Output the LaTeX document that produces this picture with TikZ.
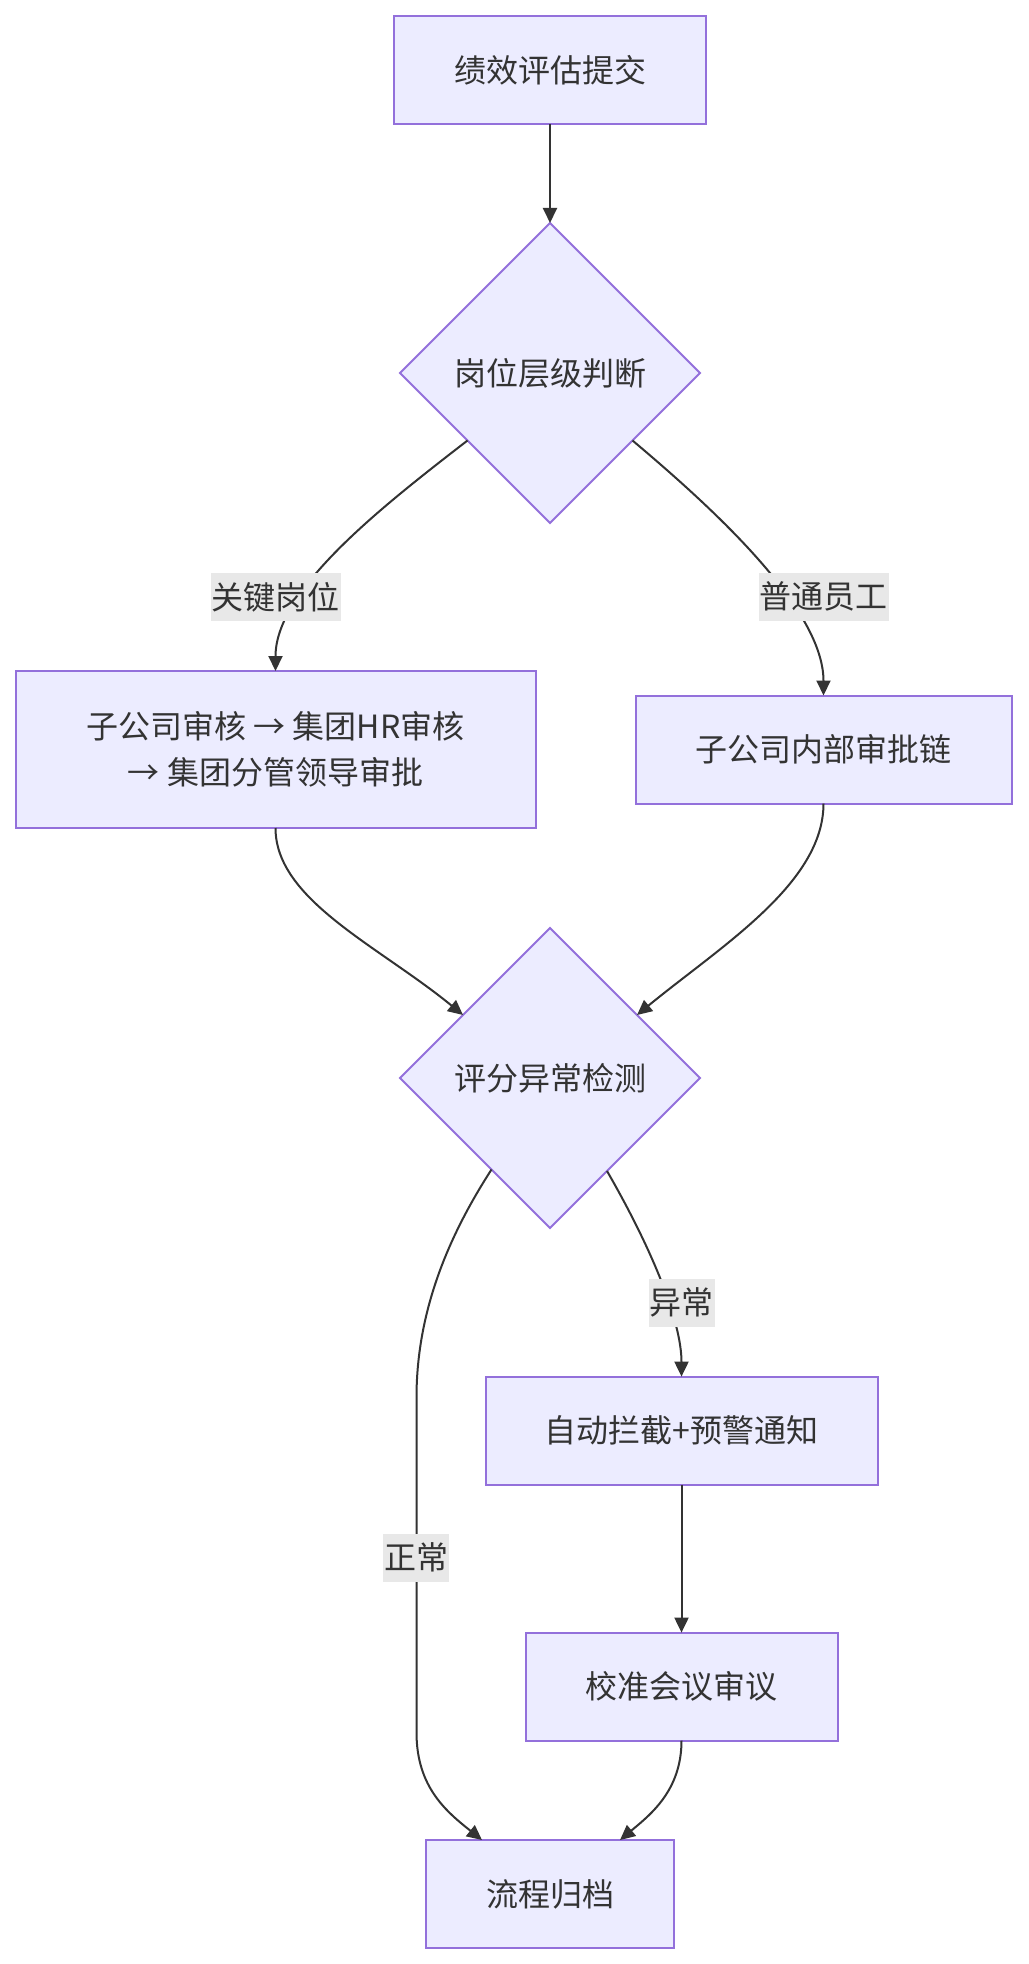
\documentclass[tikz,border=0pt]{standalone}
\usepackage{fontspec}
\setmainfont{Noto Sans CJK SC}
\usetikzlibrary{positioning, shapes.geometric, arrows.meta, calc}
\definecolor{nodefill}{HTML}{ECECFF}
\definecolor{nodeline}{HTML}{9370DB}
\definecolor{edgeline}{HTML}{333333}
\definecolor{lblfill}{HTML}{E8E8E8}

\begin{document}
\begin{tikzpicture}[
    x=0.5pt, y=-0.5pt,
    procbox/.style={draw=nodeline, fill=nodefill, line width=1pt, minimum height=54pt, align=center, inner sep=0pt, outer sep=0pt, text=edgeline, font=\fontsize{16}{23}\selectfont},
    checkbox/.style={procbox, shape=diamond, aspect=1, minimum width=150pt, minimum height=150pt},
    edgelbl/.style={fill=lblfill, inner xsep=0.5pt, inner ysep=0pt, outer sep=0pt, minimum height=24pt, text=edgeline, font=\fontsize{16}{20}\selectfont},
    arrow/.style={-{Triangle[length=7.5pt, width=7pt]}, line width=1pt, draw=edgeline}
]
    \useasboundingbox (0,0) rectangle (1028,1964);

    % Submission and level check
    \node[procbox, minimum width=156pt] (submit) at (550,70) {绩效评估提交};
    \node[checkbox, below=49.5pt of submit] (level) {岗位层级判断};

    % Two approval routes
    \node[procbox, minimum width=260pt, minimum height=78.5pt, below=74pt of level, xshift=-137.25pt] (keypost) {子公司审核 → 集团HR审核\\→ 集团分管领导审批};
    \node[procbox, minimum width=188pt, right=50pt of keypost] (staffchain) {子公司内部审批链};

    % Anomaly check
    \node[checkbox, below=202.5pt of level] (anomaly) {评分异常检测};
    \node[procbox, minimum width=196pt, below=74.3pt of anomaly, xshift=65.75pt] (intercept) {自动拦截+预警通知};
    \node[procbox, minimum width=156pt, below=74pt of intercept] (calib) {校准会议审议};
    \node[procbox, minimum width=124pt, below=306pt of anomaly] (archive) {流程归档};

    % Connectors
    \draw[arrow] (submit) -- (level);
    \draw[arrow] ($(level.west)!.45!(level.south)$) .. controls +(-88,68) and +(0,-81) .. (keypost.north);
    \draw[arrow] ($(level.east)!.45!(level.south)$) .. controls +(82,69) and +(0,-86) .. (staffchain.north);
    \draw[arrow] (keypost.south) .. controls +(0,72) and +(-84,-69) .. ($(anomaly.west)!.42!(anomaly.north)$);
    \draw[arrow] (staffchain.south) .. controls +(0,80) and +(84,-69) .. ($(anomaly.east)!.42!(anomaly.north)$);

    % Normal route
    \coordinate (ntop) at (416.5,1397.5);
    \coordinate (nbot) at (416.5,1732.5);
    \draw[arrow] ($(anomaly.west)!.61!(anomaly.south)$) .. controls +(-40,62) and +(0,-90) .. (ntop) -- (nbot) .. controls +(0,55) and +(-35,-28) .. ([xshift=-34pt]archive.north);

    % Abnormal route
    \draw[arrow] ($(anomaly.east)!.62!(anomaly.south)$) .. controls +(45,78) and +(0,-55) .. (intercept.north);
    \draw[arrow] (intercept) -- (calib);
    \draw[arrow] (calib.south) .. controls +(0,50) and +(30,-25) .. ([xshift=35pt]archive.north);

    % Edge labels
    \node[edgelbl, above=25pt of keypost] (lkey) {关键岗位};
    \node[edgelbl, above=37.5pt of staffchain] (lstaff) {普通员工};
    \node[edgelbl, above=25pt of intercept] (labnormal) {异常};
    \node[edgelbl] (lnormal) at (416,1557.5) {正常};

\end{tikzpicture}
\end{document}
